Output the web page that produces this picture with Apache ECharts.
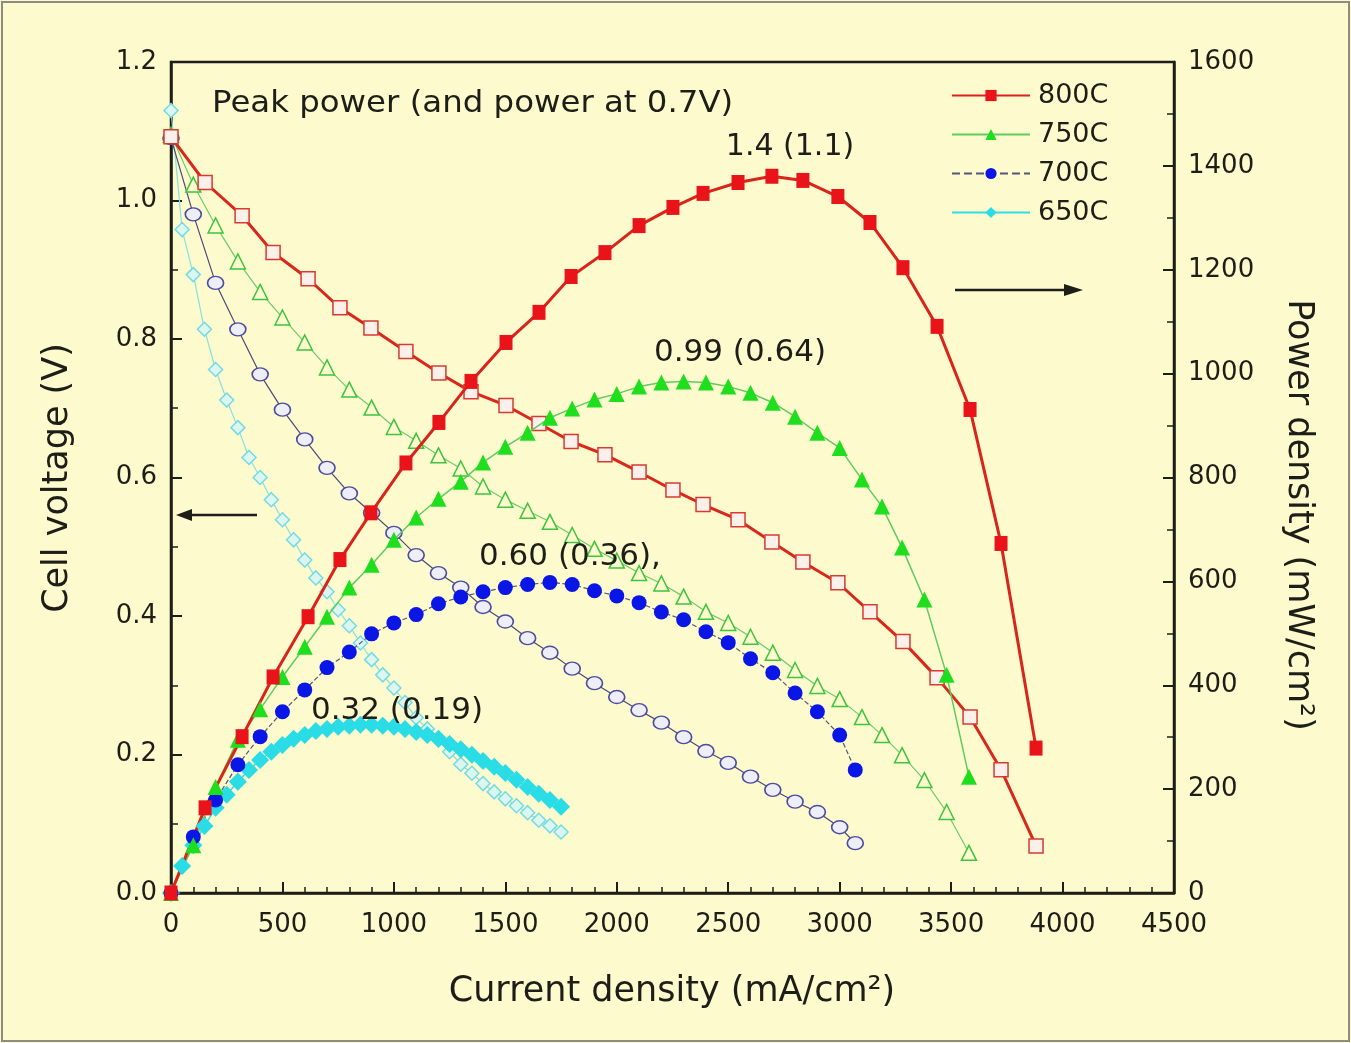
<!DOCTYPE html>
<html>
<head>
<meta charset="utf-8">
<script src="https://cdn.jsdelivr.net/npm/echarts@6/dist/echarts.min.js"></script>
<style>
  html, body { margin: 0; padding: 0; background: #fdfacd; }
  #chart { width: 1351px; height: 1043px; }
</style>
</head>
<body>
<div id="chart"></div>
<script>
// Current density (mA/cm2) for each operating temperature
const current800 = [0, 153, 319, 458, 615, 758, 897, 1054, 1202, 1346, 1503, 1651, 1795, 1947, 2100, 2252, 2387, 2544, 2696, 2835, 2992, 3136, 3284, 3437, 3585, 3724, 3881];
const current750 = [0, 100, 200, 300, 400, 500, 600, 700, 800, 900, 1000, 1100, 1200, 1300, 1400, 1500, 1600, 1700, 1800, 1900, 2000, 2100, 2200, 2300, 2400, 2500, 2600, 2700, 2800, 2900, 3000, 3100, 3190, 3280, 3380, 3480, 3580];
const current700 = [0, 100, 200, 300, 400, 500, 600, 700, 800, 900, 1000, 1100, 1200, 1300, 1400, 1500, 1600, 1700, 1800, 1900, 2000, 2100, 2200, 2300, 2400, 2500, 2600, 2700, 2800, 2900, 3000, 3070];
const current650 = [0, 50, 100, 150, 200, 250, 300, 350, 400, 450, 500, 550, 600, 650, 700, 750, 800, 850, 900, 950, 1000, 1050, 1100, 1150, 1200, 1250, 1300, 1350, 1400, 1450, 1500, 1550, 1600, 1650, 1700, 1750];

// Cell voltage (V)
const voltage800 = [1.092, 1.026, 0.978, 0.925, 0.887, 0.845, 0.816, 0.782, 0.751, 0.724, 0.704, 0.678, 0.652, 0.633, 0.608, 0.582, 0.561, 0.539, 0.507, 0.478, 0.448, 0.406, 0.363, 0.311, 0.254, 0.178, 0.068];
const voltage750 = [1.095, 1.023, 0.964, 0.912, 0.868, 0.831, 0.795, 0.759, 0.727, 0.701, 0.673, 0.653, 0.632, 0.613, 0.587, 0.568, 0.552, 0.536, 0.517, 0.497, 0.480, 0.462, 0.447, 0.428, 0.406, 0.390, 0.370, 0.347, 0.322, 0.299, 0.280, 0.254, 0.228, 0.199, 0.163, 0.117, 0.058];
const voltage700 = [1.09, 0.98, 0.881, 0.814, 0.749, 0.698, 0.655, 0.614, 0.577, 0.549, 0.520, 0.488, 0.462, 0.441, 0.413, 0.392, 0.368, 0.347, 0.324, 0.303, 0.283, 0.264, 0.246, 0.225, 0.205, 0.188, 0.168, 0.149, 0.132, 0.117, 0.095, 0.072];
const voltage650 = [1.13, 0.958, 0.893, 0.814, 0.756, 0.712, 0.672, 0.629, 0.600, 0.568, 0.539, 0.510, 0.481, 0.455, 0.435, 0.409, 0.386, 0.361, 0.337, 0.315, 0.296, 0.275, 0.253, 0.237, 0.221, 0.204, 0.186, 0.173, 0.158, 0.146, 0.136, 0.126, 0.116, 0.105, 0.097, 0.088];

// Power density (mW/cm2)
const power800 = [0, 164, 301, 416, 532, 642, 732, 828, 906, 985, 1060, 1118, 1187, 1233, 1285, 1320, 1347, 1368, 1380, 1372, 1341, 1291, 1204, 1091, 931, 673, 279];
const power750 = [0, 92, 204, 295, 354, 416, 474, 532, 588, 632, 680, 723, 759, 792, 829, 859, 886, 915, 933, 950, 961, 975, 983, 985, 983, 975, 963, 944, 917, 886, 857, 796, 744, 665, 565, 420, 224];
const power700 = [0, 108, 179, 247, 301, 349, 391, 434, 464, 499, 520, 536, 557, 570, 580, 588, 594, 598, 594, 582, 572, 559, 541, 526, 503, 482, 451, 424, 385, 349, 304, 237];
const power650 = [0, 52, 92, 129, 164, 189, 214, 237, 256, 272, 285, 297, 304, 312, 316, 320, 322, 324, 324, 322, 320, 316, 310, 304, 297, 287, 277, 266, 254, 243, 231, 218, 204, 191, 179, 166];

const temperatures = ['800C', '750C', '700C', '650C'];

// Axis ticks
const xTicks = { min: 0, max: 4500, interval: 500 };
const yLeftTicks = { min: 0, max: 1.2, interval: 0.2 };
const yRightTicks = { min: 0, max: 1600, interval: 200 };

// Peak power labels: "peak (power at 0.7 V)" in W/cm2
const peakLabels = ['1.4 (1.1)', '0.99 (0.64)', '0.60 (0.36),', '0.32 (0.19)'];
const noteText = 'Peak power (and power at 0.7V)';

const pairs = (xs, ys) => xs.map((x, i) => [x, ys[i]]);

const FONT = '"DejaVu Sans", "Liberation Sans", Arial, sans-serif';
const INK = '#1e1e18';
const BG = '#fdfacd';

function voltageSeries(name, xs, ys, opts) {
  return Object.assign({
    name: name + ' voltage',
    type: 'line',
    yAxisIndex: 0,
    data: pairs(xs, ys),
    showSymbol: true,
    showAllSymbol: true,
    animation: false,
    z: 2
  }, opts);
}
function powerSeries(name, xs, ys, opts) {
  return Object.assign({
    name: name,
    type: 'line',
    yAxisIndex: 1,
    data: pairs(xs, ys),
    showSymbol: true,
    showAllSymbol: true,
    animation: false,
    z: 3
  }, opts);
}

const series = [
  voltageSeries('650C', current650, voltage650, {
    symbol: 'diamond', symbolSize: 14,
    lineStyle: { color: '#86e0e6', width: 1.2 },
    itemStyle: { color: '#dcf6ef', borderColor: '#74dbe4', borderWidth: 1.5 }
  }),
  voltageSeries('700C', current700, voltage700, {
    symbol: 'circle', symbolSize: [16, 13],
    lineStyle: { color: '#4a4a78', width: 1.2 },
    itemStyle: { color: '#eeeef8', borderColor: '#4c4ca0', borderWidth: 1.5 }
  }),
  voltageSeries('750C', current750, voltage750, {
    symbol: 'triangle', symbolSize: 15,
    lineStyle: { color: '#6ccc6c', width: 1.2 },
    itemStyle: { color: BG, borderColor: '#3ec43e', borderWidth: 1.5 }
  }),
  voltageSeries('800C', current800, voltage800, {
    symbol: 'rect', symbolSize: 14,
    lineStyle: { color: '#d8281c', width: 3 },
    itemStyle: { color: '#fbf1ea', borderColor: '#d83a30', borderWidth: 1.5 }
  }),
  powerSeries('650C', current650, power650, {
    symbol: 'diamond', symbolSize: 18,
    lineStyle: { color: '#33dde6', width: 1.5 },
    itemStyle: { color: '#2adce6' }
  }),
  powerSeries('700C', current700, power700, {
    symbol: 'circle', symbolSize: 15,
    lineStyle: { color: '#55557a', width: 1.2, type: 'dashed' },
    itemStyle: { color: '#0a16e6' }
  }),
  powerSeries('750C', current750, power750, {
    symbol: 'triangle', symbolSize: 16,
    lineStyle: { color: '#5fcc5f', width: 1.5 },
    itemStyle: { color: '#1ede1e' }
  }),
  powerSeries('800C', current800, power800, {
    symbol: 'rect', symbolSize: [13, 15],
    lineStyle: { color: '#d8241a', width: 3 },
    itemStyle: { color: '#e8141a' }
  })
];

function textEl(text, x, y, size, extra) {
  return Object.assign({
    type: 'text', x: x, y: y, z: 50,
    style: {
      text: text, fill: INK, fontSize: size, fontFamily: FONT,
      align: 'center', verticalAlign: 'middle'
    }
  }, extra || {});
}

const graphic = [
  // thin outer frame
  { type: 'rect', shape: { x: 2, y: 2, width: 1347, height: 1039 }, style: { fill: 'none', stroke: '#8c8c84', lineWidth: 2 }, z: 0 },
  // note and peak labels
  textEl(noteText, 212, 104, 30, { scaleX: 1.08, style: { text: noteText, fill: INK, fontSize: 30, fontFamily: FONT, align: 'left', verticalAlign: 'middle' } }),
  textEl(peakLabels[0], 790, 147, 30),
  textEl(peakLabels[1], 740, 353, 31),
  textEl(peakLabels[2], 570, 557, 31),
  textEl(peakLabels[3], 397, 711, 31),
  // axis titles
  textEl('Cell voltage (V)', 58, 478, 35, { rotation: Math.PI / 2 }),
  textEl('Current density (mA/cm\u00B2)', 672, 992, 35),
  textEl('Power density (mW/cm\u00B2)', 1298, 515, 35, { rotation: -Math.PI / 2 }),
  // arrow pointing to the voltage axis
  { type: 'line', shape: { x1: 257, y1: 515, x2: 186, y2: 515 }, style: { stroke: INK, lineWidth: 2.5 }, z: 50 },
  { type: 'polygon', shape: { points: [[176, 515], [192, 509], [192, 521]] }, style: { fill: INK }, z: 50 },
  // arrow pointing to the power axis
  { type: 'line', shape: { x1: 955, y1: 290, x2: 1070, y2: 290 }, style: { stroke: INK, lineWidth: 2.5 }, z: 50 },
  { type: 'polygon', shape: { points: [[1083, 290], [1064, 284], [1064, 296]] }, style: { fill: INK }, z: 50 }
];

const axisLabelStyle = { color: INK, fontSize: 26, fontFamily: FONT, formatter: v => String(v) };
const axisLineStyle = { lineStyle: { color: INK, width: 2.5 } };

const option = {
  backgroundColor: BG,
  animation: false,
  grid: {
    left: 171, right: 177, top: 62, bottom: 150,
    show: true, borderColor: INK, borderWidth: 2.5, backgroundColor: BG
  },
  legend: {
    data: temperatures,
    orient: 'vertical',
    left: 951, top: 82, padding: 0,
    itemWidth: 78, itemHeight: 14, itemGap: 12,
    textStyle: { color: INK, fontSize: 27, fontFamily: FONT, lineHeight: 27, padding: [0, 0, 0, 3] },
    selectedMode: false
  },
  xAxis: {
    type: 'value',
    min: xTicks.min, max: xTicks.max, interval: xTicks.interval,
    axisLine: axisLineStyle,
    axisTick: { inside: true, length: 11, lineStyle: { color: INK, width: 2 } },
    minorTick: { show: true, splitNumber: 5, length: 6, lineStyle: { color: INK, width: 1.5 } },
    splitLine: { show: false },
    axisLabel: Object.assign({}, axisLabelStyle, { margin: 19 })
  },
  yAxis: [
    {
      type: 'value', position: 'left',
      min: yLeftTicks.min, max: yLeftTicks.max, interval: yLeftTicks.interval,
      axisLine: axisLineStyle,
      axisTick: { inside: true, length: 11, lineStyle: { color: INK, width: 2 } },
      minorTick: { show: true, splitNumber: 2, length: 7, lineStyle: { color: INK, width: 1.5 } },
      splitLine: { show: false },
      axisLabel: Object.assign({}, axisLabelStyle, { margin: 14, formatter: v => v.toFixed(1) })
    },
    {
      type: 'value', position: 'right',
      min: yRightTicks.min, max: yRightTicks.max, interval: yRightTicks.interval,
      axisLine: axisLineStyle,
      axisTick: { inside: true, length: 11, lineStyle: { color: INK, width: 2 } },
      minorTick: { show: true, splitNumber: 2, length: 7, lineStyle: { color: INK, width: 1.5 } },
      splitLine: { show: false },
      axisLabel: Object.assign({}, axisLabelStyle, { margin: 14 })
    }
  ],
  series: series,
  graphic: graphic
};

const chart = echarts.init(document.getElementById('chart'), null, { renderer: 'canvas' });
chart.setOption(option);
</script>
</body>
</html>
